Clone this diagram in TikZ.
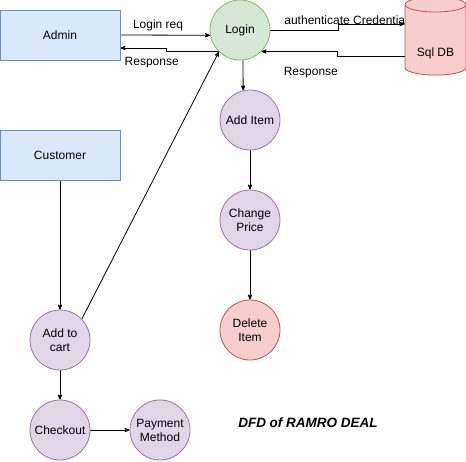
\documentclass[tikz,border=0pt]{standalone}
\usepackage{fontspec}
\setmainfont{Liberation Sans}
\usetikzlibrary{shapes,arrows,backgrounds}
\definecolor{boxfill}{HTML}{DAE8FC}
\definecolor{boxline}{HTML}{6C8EBF}
\definecolor{okfill}{HTML}{D5E8D4}
\definecolor{okline}{HTML}{82B366}
\definecolor{procfill}{HTML}{E1D5E7}
\definecolor{procline}{HTML}{9673A6}
\definecolor{redfill}{HTML}{F8CECC}
\definecolor{redline}{HTML}{B85450}
\tikzstyle{entity} = [rectangle, draw=boxline, fill=boxfill, line width=0.8pt,
    minimum width=120pt, minimum height=50pt, inner sep=0pt]
\tikzstyle{proc} = [circle, draw=procline, fill=procfill, line width=0.8pt,
    minimum size=60pt, inner sep=0pt, align=center]
\tikzstyle{store} = [cylinder, shape border rotate=90, draw=redline, fill=redfill,
    line width=0.8pt, minimum width=61pt, minimum height=78pt, aspect=0.4, inner sep=0pt]
\tikzstyle{line} = [draw, line width=0.8pt, -stealth']

\begin{document}
\begin{tikzpicture}[x=1pt, y=-1pt, node distance=100pt, auto,
    font=\fontsize{12}{14}\selectfont]
		\useasboundingbox (0,0) rectangle (466,461);
		\node [entity] (admin) at (60,35) {Admin};
		\node [entity] (customer) at (60,155) {Customer};
		\node [proc, draw=okline, fill=okfill] (login) at (240,30) {Login};
		\node [store] (db) at (435.5,40) {\raisebox{-16pt}[0pt][0pt]{Sql DB}};
		\node [proc] (additem) at (250,120) {Add Item};
		\node [proc, below of=additem] (changeprice) {Change\\Price};
		\node [proc, draw=redline, fill=redfill, below of=changeprice, node distance=110pt] (deleteitem) {Delete\\Item};
		\node [proc] (addcart) at (60,340) {Add to\\cart};
		\node [proc, below of=addcart, node distance=90pt] (checkout) {Checkout};
		\node [proc, right of=checkout] (payment) {Payment\\Method};
		\node [font=\fontsize{13.5}{15}\selectfont\bfseries\itshape] (title) at (308,423) {DFD of RAMRO DEAL};
		
		\begin{pgfonlayer}{background}
		\path [line] (admin.east) -- node [pos=0.42] {Login req} (login.190);
		\path [line] (login.225) -- ++(-52,0) |- node [pos=0.66, below, yshift=-6pt] {Response} ([yshift=-13pt]admin.east);
		\path [line] (login.east) -- ++(68,0) node [pos=0.2, anchor=south west, yshift=5pt, inner sep=0pt] {authenticate Credentials} |- ([yshift=16pt]db.west);
		\path [line] ([yshift=-16pt]db.west) -- ++(-67,0) node [below left, xshift=4pt, yshift=-8pt] {Response} |- (login.-45);
		\path [line] ([xshift=3pt]login.south) -- (additem.103);
		\path [line] (additem) -- (changeprice);
		\path [line] (changeprice) -- (deleteitem);
		\path [line] (customer) -- (addcart);
		\path [line] (addcart.44) -- (login.226);
		\path [line] (addcart) -- (checkout);
		\path [line] (checkout) -- (payment);
		\end{pgfonlayer}
	\end{tikzpicture}
\end{document}
